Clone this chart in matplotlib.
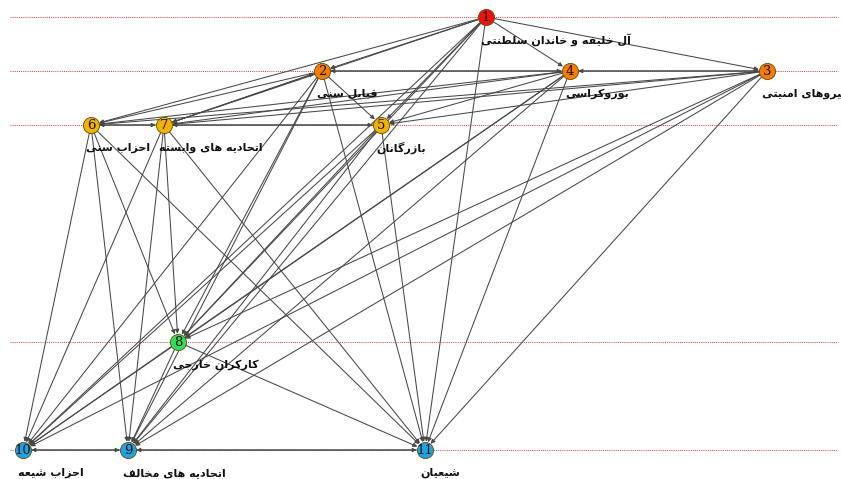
import matplotlib
matplotlib.use("Agg")
import matplotlib.pyplot as plt
from matplotlib.patches import FancyArrowPatch

# ---- data -------------------------------------------------------------
node_ids = [1, 2, 3, 4, 5, 6, 7, 8, 9, 10, 11]
node_names = {
    1: "آل خلیفه و خاندان سلطنتی",
    2: "قبایل سنی",
    3: "نیروهای امنیتی",
    4: "بوروکراسی",
    5: "بازرگانان",
    6: "احزاب سنی",
    7: "اتحادیه های وابسته",
    8: "کارکران خارجی",
    9: "اتحادیه های مخالف",
    10: "احزاب شیعه",
    11: "شیعیان",
}
node_group = {1: "top", 2: "high", 3: "high", 4: "high", 5: "mid", 6: "mid",
              7: "mid", 8: "foreign", 9: "low", 10: "low", 11: "low"}

edges = [
    (1, 2), (1, 3), (1, 4), (1, 5), (1, 6), (1, 7), (1, 8), (1, 9), (1, 10), (1, 11),
    (2, 4), (4, 2), (3, 4), (4, 3),
    (2, 5), (2, 6), (2, 7), (7, 2), (2, 8), (2, 9), (2, 10), (2, 11),
    (3, 5), (3, 6), (3, 7), (3, 8), (3, 9), (3, 10), (3, 11),
    (4, 5), (4, 6), (4, 7), (4, 8), (4, 9), (4, 10), (4, 11),
    (5, 7), (7, 5), (6, 7), (7, 6),
    (5, 8), (5, 9), (5, 10), (5, 11),
    (6, 8), (6, 9), (6, 10), (6, 11),
    (7, 8), (7, 9), (7, 10), (7, 11),
    (8, 9), (8, 10), (8, 11),
    (9, 10), (10, 9), (9, 11), (11, 9),
]

# ---- layout (pixel coordinates of the drawing) ------------------------
pos = {1: (486, 17), 2: (322, 71), 3: (767, 71), 4: (570, 71),
       5: (381, 125), 6: (91, 125), 7: (164, 125), 8: (178, 342),
       9: (128, 450), 10: (23, 450), 11: (425, 450)}
level_y = [17, 71, 125, 342, 450]
group_color = {"top": "#f01010", "high": "#f57c00", "mid": "#f2b200",
               "foreign": "#2ee05a", "low": "#1ea3e2"}

# ---- minimal Persian shaping (matplotlib has no bidi / joining) -------
FORMS = {
    "\u0627": ("\uFE8D", "\uFE8E", None, None),
    "\u0622": ("\uFE81", "\uFE82", None, None),
    "\u0628": ("\uFE8F", "\uFE90", "\uFE91", "\uFE92"),
    "\u062A": ("\uFE95", "\uFE96", "\uFE97", "\uFE98"),
    "\u062C": ("\uFE9D", "\uFE9E", "\uFE9F", "\uFEA0"),
    "\u062D": ("\uFEA1", "\uFEA2", "\uFEA3", "\uFEA4"),
    "\u062E": ("\uFEA5", "\uFEA6", "\uFEA7", "\uFEA8"),
    "\u062F": ("\uFEA9", "\uFEAA", None, None),
    "\u0631": ("\uFEAD", "\uFEAE", None, None),
    "\u0632": ("\uFEAF", "\uFEB0", None, None),
    "\u0633": ("\uFEB1", "\uFEB2", "\uFEB3", "\uFEB4"),
    "\u0634": ("\uFEB5", "\uFEB6", "\uFEB7", "\uFEB8"),
    "\u0637": ("\uFEC1", "\uFEC2", "\uFEC3", "\uFEC4"),
    "\u0639": ("\uFEC9", "\uFECA", "\uFECB", "\uFECC"),
    "\u0641": ("\uFED1", "\uFED2", "\uFED3", "\uFED4"),
    "\u0642": ("\uFED5", "\uFED6", "\uFED7", "\uFED8"),
    "\u0644": ("\uFEDD", "\uFEDE", "\uFEDF", "\uFEE0"),
    "\u0645": ("\uFEE1", "\uFEE2", "\uFEE3", "\uFEE4"),
    "\u0646": ("\uFEE5", "\uFEE6", "\uFEE7", "\uFEE8"),
    "\u0647": ("\uFEE9", "\uFEEA", "\uFEEB", "\uFEEC"),
    "\u0648": ("\uFEED", "\uFEEE", None, None),
    "\u06CC": ("\uFBFC", "\uFBFD", "\uFBFE", "\uFBFF"),
    "\u06A9": ("\uFB8E", "\uFB8F", "\uFB90", "\uFB91"),
    "\u06AF": ("\uFB92", "\uFB93", "\uFB94", "\uFB95"),
}


def shape(text):
    out = []
    n = len(text)
    for i, ch in enumerate(text):
        f = FORMS.get(ch)
        if f is None:
            out.append(ch)
            continue
        prev = text[i - 1] if i > 0 else ""
        nxt = text[i + 1] if i < n - 1 else ""
        join_prev = prev in FORMS and FORMS[prev][2] is not None
        join_next = f[2] is not None and nxt in FORMS
        if join_prev and join_next:
            out.append(f[3])
        elif join_prev:
            out.append(f[1])
        elif join_next:
            out.append(f[2])
        else:
            out.append(f[0])
    return "".join(out)[::-1]


# ---- drawing ----------------------------------------------------------
fig = plt.figure(figsize=(8.41, 4.79), dpi=100)
ax = fig.add_axes([0, 0, 1, 1])
ax.set_xlim(0, 841)
ax.set_ylim(479, 0)
ax.axis("off")

for y in level_y:
    ax.plot([10, 838], [y, y], color="#e03c3c", lw=0.7, ls=(0, (1, 1.2)), zorder=1)

for a, b in edges:
    arr = FancyArrowPatch(pos[a], pos[b], arrowstyle="-|>", mutation_scale=6,
                          shrinkA=6, shrinkB=6, color="#484848", lw=0.75, zorder=2)
    ax.add_patch(arr)

for n in node_ids:
    x, y = pos[n]
    ax.scatter([x], [y], s=135, color=group_color[node_group[n]],
               edgecolors="#6a4a00", linewidths=0.6, zorder=3)
    ax.text(x, y, str(n), ha="center", va="center", fontsize=9.5,
            family="DejaVu Serif", color="#111111", zorder=4)
    ax.text(x - 5, y + 23, shape(node_names[n]), ha="left", va="center",
            fontsize=8, fontweight="bold", family="DejaVu Sans",
            color="#111111", zorder=4)

fig.savefig("out.png", dpi=100)
